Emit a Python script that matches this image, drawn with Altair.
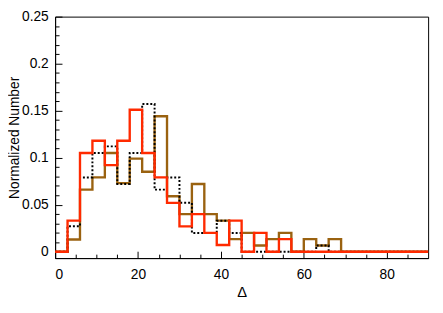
import altair as alt
import pandas as pd

# Histogram bin left edges (bin width 3) and the final right edge
bin_edges = [0, 3, 6, 9, 12, 15, 18, 21, 24, 27, 30, 33, 36, 39, 42, 45,
             48, 51, 54, 57, 60, 63, 66, 69, 72, 75, 78, 81, 84, 87]
end_edge = 90

# Normalized numbers per bin
dotted_black = [0, 0.027, 0.079, 0.105, 0.112, 0.072, 0.105, 0.157, 0.066, 0.079,
                0.052, 0.020, 0.020, 0.033, 0.020, 0, 0, 0, 0, 0,
                0, 0.0066, 0, 0, 0, 0, 0, 0, 0, 0]
brown = [0, 0.013, 0.066, 0.079, 0.105, 0.073, 0.099, 0.085, 0.144, 0.059,
         0.040, 0.072, 0.040, 0.033, 0.0133, 0.020, 0.0066, 0.0133, 0.020, 0,
         0.0133, 0.0066, 0.0133, 0, 0, 0, 0, 0, 0, 0]
red = [0, 0.033, 0.105, 0.118, 0.092, 0.118, 0.151, 0.105, 0.079, 0.052,
       0.027, 0.040, 0.020, 0.0071, 0.033, 0, 0.020, 0, 0.0133, 0,
       0, 0, 0, 0, 0, 0, 0, 0, 0, 0]

# Axis ticks
x_major = [0, 20, 40, 60, 80]
x_minor = [5, 10, 15, 25, 30, 35, 45, 50, 55, 65, 70, 75, 85]
y_major = [0, 0.05, 0.1, 0.15, 0.2, 0.25]
y_minor = [0.01, 0.02, 0.03, 0.04, 0.06, 0.07, 0.08, 0.09, 0.11, 0.12, 0.13, 0.14,
           0.16, 0.17, 0.18, 0.19, 0.21, 0.22, 0.23, 0.24]

W, H = 380, 246
FONT = "Liberation Sans"


def steps(vals):
    return pd.DataFrame({"delta": bin_edges + [end_edge], "frac": vals + [vals[-1]]})


x_scale = alt.Scale(domain=[0, 90], nice=False, zero=False)
y_scale = alt.Scale(domain=[-0.0068, 0.25], nice=False, zero=False)

ax_x_main = alt.Axis(orient="bottom", values=x_major, ticks=False, tickSize=0, grid=False,
                     domain=True, domainColor="black", domainWidth=1,
                     labelFont=FONT, labelFontSize=14, labelColor="black",
                     labelPadding=20.5, labelBaseline="alphabetic",
                     title="Δ", titleFont=FONT, titleFontSize=15, titleFontWeight="normal",
                     titleColor="black", titleBaseline="alphabetic", titleY=39)
ax_y_main = alt.Axis(orient="left", values=y_major, format="~g", ticks=False, tickSize=0, grid=False,
                     domain=True, domainColor="black", domainWidth=1,
                     labelFont=FONT, labelFontSize=14, labelColor="black", labelPadding=7,
                     title="Normalized Number", titleFont=FONT, titleFontSize=14,
                     titleFontWeight="normal", titleColor="black", titleX=-34)
ax_x_major = alt.Axis(orient="top", offset=-H, values=x_major, ticks=True, tickSize=7,
                      tickColor="black", tickWidth=1, labels=False, domain=False, grid=False, title="")
ax_y_major = alt.Axis(orient="right", offset=-W, values=y_major, ticks=True, tickSize=7,
                      tickColor="black", tickWidth=1, labels=False, domain=False, grid=False, title="")
ax_x_minor = alt.Axis(orient="top", offset=-H, values=x_minor, ticks=True, tickSize=4,
                      tickColor="black", tickWidth=1, labels=False, domain=False, grid=False, title="")
ax_y_minor = alt.Axis(orient="right", offset=-W, values=y_minor, ticks=True, tickSize=4,
                      tickColor="black", tickWidth=1, labels=False, domain=False, grid=False, title="")

brown_layer = alt.Chart(steps(brown)).mark_line(
    interpolate="step-after", color="#9a6210", strokeWidth=2.4
).encode(
    x=alt.X("delta:Q", scale=x_scale, axis=ax_x_major),
    y=alt.Y("frac:Q", scale=y_scale, axis=ax_y_major),
)

black_layer = alt.Chart(steps(dotted_black)).mark_line(
    interpolate="step-after", color="black", strokeWidth=2, strokeDash=[2, 2]
).encode(
    x=alt.X("delta:Q", scale=x_scale, axis=ax_x_main),
    y=alt.Y("frac:Q", scale=y_scale, axis=ax_y_main),
)

red_layer = alt.Chart(steps(red)).mark_line(
    interpolate="step-after", color="#ff2a00", strokeWidth=2.4
).encode(
    x=alt.X("delta:Q", scale=x_scale, axis=ax_x_minor),
    y=alt.Y("frac:Q", scale=y_scale, axis=ax_y_minor),
)

chart = alt.layer(brown_layer, black_layer, red_layer).resolve_axis(
    x="independent", y="independent"
).properties(
    width=W, height=H,
    autosize=alt.AutoSizeParams(type="none"),
    padding={"left": 48, "top": 6, "right": 7, "bottom": 45},
).configure_view(stroke="black", strokeWidth=1)

chart.save("out.html", embed_options={"renderer": "svg", "actions": False})
